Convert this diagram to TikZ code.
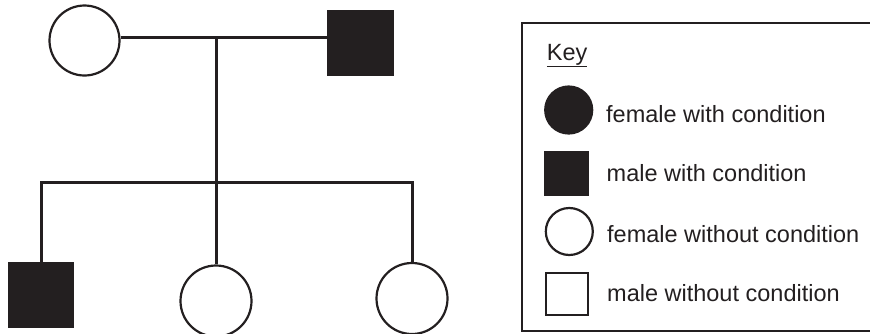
\documentclass[tikz,border=0pt]{standalone}
\usepackage{fontspec}
\setmainfont{Liberation Sans}
\definecolor{ink}{HTML}{231F20}
\tikzset{
  fem/.style={circle,draw=ink,line width=2.2pt,minimum size=#1,inner sep=0pt},
  fem/.default=70pt,
  mal/.style={rectangle,draw=ink,line width=2.2pt,minimum size=#1,inner sep=0pt},
  mal/.default=64pt,
  affected/.style={fill=ink},
  link/.style={draw=ink,line width=3pt},
  keyframe/.style={draw=ink,line width=2.2pt},
  keytext/.style={anchor=base west,inner sep=0pt,text=ink,font=\fontsize{23.5pt}{28pt}\selectfont}
}
\begin{document}
\begin{tikzpicture}[x=1pt,y=-1pt]
\useasboundingbox (0,0) rectangle (870,333);
% pedigree
\node[fem] (mo) at (84.5,40.5) {};
\node[mal,affected] (fa) at (360.5,43) {};
\node[mal,affected] (c1) at (41,295) {};
\node[fem=71pt] (c2) at (216,301) {};
\node[fem=71pt] (c3) at (412,298.5) {};
\coordinate (mid) at (216,37.3);
\coordinate (sib) at (216,182);
\coordinate (sibL) at (41,182);
\coordinate (sibR) at (412,182);
\draw[link] (mo.east |- mid) -- (fa.west |- mid);
\draw[link] (mid) -- (sib);
\draw[link,line cap=rect] (sibL) -- (sibR);
\draw[link] (sibL) -- (c1.north);
\draw[link] (sib) -- (c2.north);
\draw[link] (sibR) -- (c3.north);
% key frame (runs off the right edge)
\coordinate (kTR) at (885,22.7);
\coordinate (kTL) at (522,22.7);
\coordinate (kBL) at (522,331);
\coordinate (kBR) at (885,331);
\draw[keyframe] (kTR) -- (kTL) -- (kBL) -- (kBR);
\node[keytext] (keyt) at (546.7,60) {\underline{Key}};
\node[fem=47pt,affected] (k1) at (568.7,110) {};
\node[mal=43pt,affected] (k2) at (566.3,173.3) {};
\node[fem=47pt] (k3) at (569.3,231.5) {};
\node[mal=42pt] (k4) at (567,294) {};
\node[keytext] (t1) at (606,122.7) {female with condition};
\node[keytext] (t2) at (606.5,181.7) {male with condition};
\node[keytext] (t3) at (607,242.7) {female without condition};
\node[keytext] (t4) at (607,301.7) {male without condition};
\end{tikzpicture}
\end{document}
